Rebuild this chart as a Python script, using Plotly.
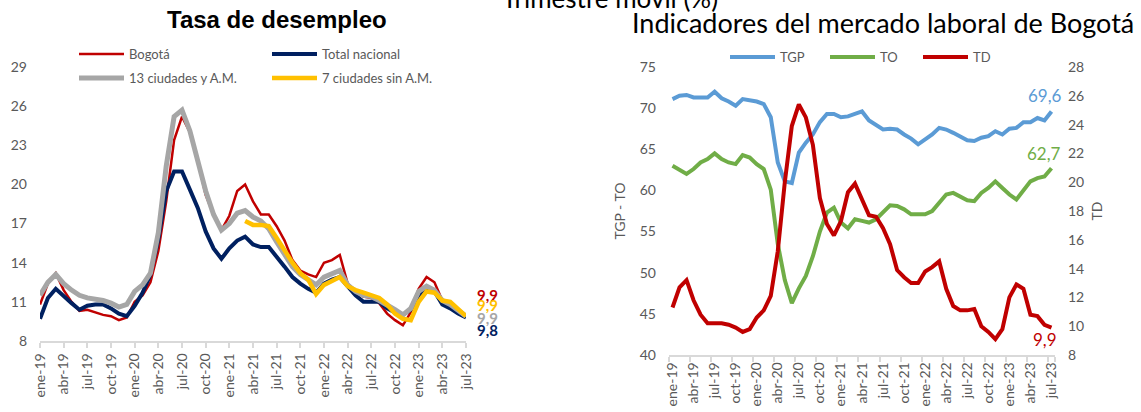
import plotly.graph_objects as go

W, H = 1141, 412

month_names = ["ene", "feb", "mar", "abr", "may", "jun", "jul", "ago", "sep", "oct", "nov", "dic"]
years = ["19", "20", "21", "22", "23"]
categories = [f"{m}-{y}" for y in years for m in month_names][:55]
tick_labels = categories[::3]

# Left chart: Tasa de desempleo (%)
bogota = [10.8, 12.4, 13.2, 11.9, 11.0, 10.3, 10.4, 10.2, 10.0, 9.9,
          9.6, 9.8, 11.0, 11.5, 12.5, 14.9, 18.7, 23.4, 25.2, 24.0,
          21.8, 19.2, 17.7, 16.5, 17.6, 19.5, 20.0, 18.7, 17.7, 17.7,
          16.8, 15.7, 14.2, 13.4, 13.1, 12.9, 14.0, 14.2, 14.6, 12.4,
          11.8, 11.4, 11.3, 10.9, 10.1, 9.6, 9.2, 10.2, 12.0, 12.9,
          12.5, 11.1, 10.8, 10.3, 9.9]
total_nacional = [9.7, 11.3, 12.0, 11.4, 10.9, 10.4, 10.7, 10.8, 10.8, 10.5,
                  10.1, 9.9, 10.7, 11.7, 13.1, 15.8, 19.5, 21.0, 21.0, 19.6,
                  18.2, 16.4, 15.1, 14.3, 15.1, 15.7, 16.0, 15.4, 15.2, 15.2,
                  14.5, 13.7, 12.9, 12.4, 12.0, 11.7, 12.4, 12.7, 12.9, 12.2,
                  11.5, 11.0, 11.0, 11.0, 10.5, 10.2, 10.0, 10.4, 11.5, 11.9,
                  11.8, 10.8, 10.5, 10.1, 9.8]
ciudades_13 = [11.5, 12.5, 13.1, 12.4, 11.9, 11.5, 11.3, 11.2, 11.1, 10.9,
               10.6, 10.8, 11.8, 12.3, 13.2, 16.3, 21.4, 25.2, 25.7, 24.1,
               21.8, 19.5, 17.7, 16.5, 17.0, 17.8, 18.0, 17.5, 17.2, 16.6,
               15.6, 14.6, 13.7, 13.1, 12.7, 12.3, 12.9, 13.2, 13.4, 12.3,
               11.8, 11.5, 11.4, 11.1, 10.8, 10.4, 10.0, 10.5, 11.8, 12.2,
               11.9, 11.1, 10.8, 10.4, 9.9]
ciudades_7 = [None] * 26 + [17.2, 16.9, 16.9, 16.8, 15.9, 14.9, 14.0, 13.2, 12.7, 11.6,
                            12.3, 12.6, 12.9, 12.2, 11.9, 11.7, 11.5, 11.3, 10.8, 10.1,
                            9.7, 9.6, 11.0, 11.8, 11.7, 11.1, 11.0, 10.4, 9.9]

# Right chart: Bogotá indicators
tgp = [71.1, 71.5, 71.6, 71.3, 71.3, 71.3, 72.0, 71.2, 70.8, 70.3,
       71.1, 71.0, 70.8, 70.5, 68.9, 63.4, 61.1, 60.9, 64.6, 65.8,
       66.8, 68.3, 69.3, 69.3, 68.9, 69.0, 69.3, 69.6, 68.5, 67.9,
       67.4, 67.5, 67.4, 66.8, 66.3, 65.6, 66.2, 66.8, 67.6, 67.4,
       67.0, 66.6, 66.1, 66.0, 66.4, 66.6, 67.2, 66.8, 67.5, 67.6,
       68.3, 68.3, 68.8, 68.5, 69.6]
to = [63.0, 62.5, 62.0, 62.6, 63.4, 63.8, 64.5, 63.8, 63.4, 63.2,
      64.3, 64.0, 63.2, 62.6, 60.1, 53.5, 49.1, 46.3, 48.1, 49.6,
      52.0, 55.0, 57.3, 57.9, 56.1, 55.4, 56.5, 56.3, 56.1, 56.5,
      57.3, 58.2, 58.1, 57.7, 57.1, 57.1, 57.1, 57.5, 58.5, 59.5,
      59.7, 59.3, 58.8, 58.7, 59.7, 60.3, 61.1, 60.3, 59.5, 58.9,
      60.1, 61.1, 61.5, 61.7, 62.7]
td = [11.3, 12.7, 13.2, 11.8, 10.8, 10.2, 10.2, 10.2, 10.1, 9.9,
      9.6, 9.8, 10.6, 11.1, 12.1, 15.2, 20.0, 23.9, 25.4, 24.5,
      22.6, 18.9, 17.1, 16.3, 17.3, 19.3, 19.9, 18.8, 17.7, 17.6,
      16.8, 15.7, 13.9, 13.4, 13.0, 13.0, 13.8, 14.1, 14.5, 12.6,
      11.4, 11.1, 11.1, 11.2, 10.0, 9.6, 9.1, 9.8, 12.0, 12.9,
      12.6, 10.8, 10.7, 10.1, 9.9]

RED = "#C00000"
NAVY = "#002060"
GRAY = "#A6A6A6"
YELLOW = "#FFC000"
BLUE = "#5B9BD5"
GREEN = "#70AD47"
TXT = "#595959"
AXC = "#D9D9D9"
FONT = "Lato"


def px(x):
    return x / W


def py(y):
    return 1 - y / H


fig = go.Figure()

# left chart traces
fig.add_trace(go.Scatter(x=categories, y=bogota, name="Bogotá", mode="lines",
                         line=dict(color=RED, width=2.5), xaxis="x", yaxis="y", legend="legend"))
fig.add_trace(go.Scatter(x=categories, y=total_nacional, name="Total nacional", mode="lines",
                         line=dict(color=NAVY, width=4), xaxis="x", yaxis="y", legend="legend2"))
fig.add_trace(go.Scatter(x=categories, y=ciudades_13, name="13 ciudades y A.M.", mode="lines",
                         line=dict(color=GRAY, width=5), xaxis="x", yaxis="y", legend="legend3"))
fig.add_trace(go.Scatter(x=categories, y=ciudades_7, name="7 ciudades sin A.M.", mode="lines",
                         line=dict(color=YELLOW, width=4.5), xaxis="x", yaxis="y", legend="legend4"))

# right chart traces
fig.add_trace(go.Scatter(x=categories, y=tgp, name="TGP", mode="lines",
                         line=dict(color=BLUE, width=4), xaxis="x2", yaxis="y2", legend="legend5"))
fig.add_trace(go.Scatter(x=categories, y=to, name="TO", mode="lines",
                         line=dict(color=GREEN, width=4), xaxis="x2", yaxis="y2", legend="legend6"))
fig.add_trace(go.Scatter(x=categories, y=td, name="TD", mode="lines",
                         line=dict(color=RED, width=4), xaxis="x2", yaxis="y3", legend="legend7"))

tickfont = dict(family=FONT, size=14, color=TXT)

xcommon = dict(type="category", categoryorder="array", categoryarray=categories,
               tickmode="array", tickvals=tick_labels, ticktext=tick_labels,
               tickangle=-90, ticks="outside", ticklen=5, tickcolor=AXC, tickwidth=1.5,
               showline=True, linecolor=AXC, linewidth=1.5, showgrid=False, zeroline=False,
               tickfont=tickfont, fixedrange=True, automargin=False)

fig.update_layout(
    width=W, height=H,
    margin=dict(l=0, r=0, t=0, b=0),
    paper_bgcolor="white", plot_bgcolor="white",
    hovermode=False,
    showlegend=True,
    xaxis=dict(xcommon, domain=[px(40), px(466)], anchor="y", range=[0, 54]),
    yaxis=dict(domain=[py(341), py(67)], anchor="x", range=[8, 29], tick0=8, dtick=3,
               showgrid=False, zeroline=False, showline=False, ticks="", automargin=False,
               tickfont=tickfont, ticklabelstandoff=12),
    xaxis2=dict(xcommon, domain=[px(669), px(1055)], anchor="y2", range=[-0.5, 54.5],
                tickson="boundaries"),
    yaxis2=dict(domain=[py(355), py(67)], anchor="x2", range=[40, 75], tick0=40, dtick=5,
                showgrid=False, zeroline=False, showline=False, ticks="", automargin=False,
                tickfont=tickfont, ticklabelstandoff=12,
                title=dict(text="TGP - TO", font=dict(family=FONT, size=14, color=TXT), standoff=10)),
    yaxis3=dict(overlaying="y2", side="right", anchor="x2", range=[8, 28], tick0=8, dtick=2,
                showgrid=False, zeroline=False, showline=False, ticks="", automargin=False,
                tickfont=tickfont, ticklabelstandoff=12,
                title=dict(text="TD", font=dict(family=FONT, size=14, color=TXT), standoff=8)),
)

legfont = dict(family=FONT, size=13, color=TXT)


def legend_at(xp, yp):
    return dict(x=px(xp - 11), y=py(yp - 1), xanchor="left", yanchor="middle", orientation="h",
                bgcolor="rgba(0,0,0,0)", borderwidth=0, font=legfont, itemwidth=45)


fig.update_layout(
    legend=legend_at(85, 55),
    legend2=legend_at(278, 55),
    legend3=legend_at(85, 79),
    legend4=legend_at(278, 79),
    legend5=legend_at(736, 58),
    legend6=legend_at(836, 58),
    legend7=legend_at(929, 58),
)

annotations = [
    dict(text="<b>Tasa de desempleo</b>", x=px(277), y=py(20), xref="paper", yref="paper",
         showarrow=False, xanchor="center", yanchor="middle",
         font=dict(family="Liberation Sans", size=24, color="black")),
    dict(text="Indicadores del mercado laboral de Bogotá", x=px(630), y=py(23), xref="paper", yref="paper",
         showarrow=False, xanchor="left", yanchor="middle",
         font=dict(family=FONT, size=27, color="black")),
    dict(text="Trimestre móvil (%)", x=px(610), y=py(-2), xref="paper", yref="paper",
         showarrow=False, xanchor="center", yanchor="middle",
         font=dict(family=FONT, size=26, color="black")),
]

last = categories[-1]
end_left = [
    (bogota[-1], RED, 21),
    (ciudades_7[-1], YELLOW, 11),
    (ciudades_13[-1], GRAY, -2),
    (total_nacional[-1], NAVY, -12),
]
for val, col, ys in end_left:
    annotations.append(dict(text=f"<b>{val:.1f}</b>".replace(".", ","), x=last, y=val,
                            xref="x", yref="y", showarrow=False, xanchor="left", yanchor="middle",
                            xshift=9, yshift=ys, font=dict(family=FONT, size=15, color=col)))

end_right = [
    (tgp[-1], "y2", BLUE, 13, 16),
    (to[-1], "y2", GREEN, 12, 15),
    (td[-1], "y3", RED, 8, -12),
]
for val, yr, col, xs, ys in end_right:
    annotations.append(dict(text=f"{val:.1f}".replace(".", ","), x=last, y=val,
                            xref="x2", yref=yr, showarrow=False, xanchor="right", yanchor="middle",
                            xshift=xs, yshift=ys, font=dict(family=FONT, size=17, color=col)))

fig.update_layout(annotations=annotations)

# remove the browser's default 8px body margin so the figure fills the window; hide the modebar
fig.write_html("out.html", config={"displayModeBar": False},
               post_script="document.body.style.margin='0';")
